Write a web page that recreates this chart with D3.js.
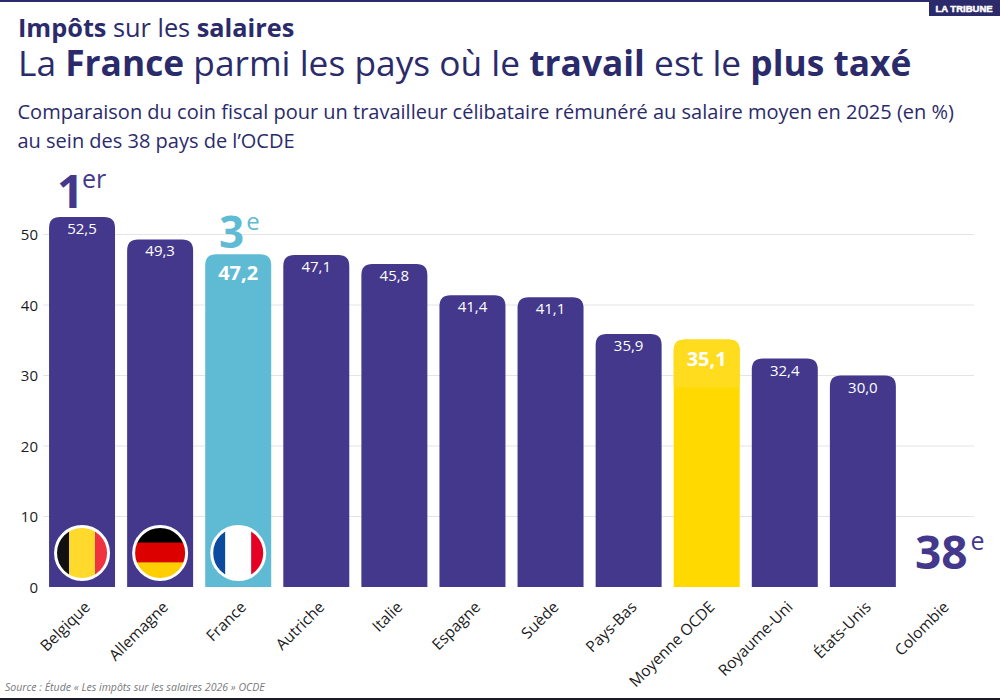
<!DOCTYPE html>
<html lang="fr">
<head>
<meta charset="utf-8">
<script src="https://cdn.jsdelivr.net/npm/d3@7/dist/d3.min.js"></script>
<style>
html,body{margin:0;padding:0;background:#fff}
svg{display:block}
text{font-family:"Open Sans",sans-serif}
</style>
</head>
<body>
<svg id="chart" width="1000" height="700"></svg>
<script>
// Tax wedge data, OECD 2025
const countries = ["Belgique","Allemagne","France","Autriche","Italie","Espagne","Suède","Pays-Bas","Moyenne OCDE","Royaume-Uni","États-Unis","Colombie"];
const wedge = [52.5,49.3,47.2,47.1,45.8,41.4,41.1,35.9,35.1,32.4,30.0,null];
const yTicks = [0,10,20,30,40,50];
const barFills = {France:"#5FBBD3","Moyenne OCDE":"#FFD900"};
const emphasised = ["France","Moyenne OCDE"];
const rankNums = ["1","3","38"];
const rankSups = ["er","e","e"];
const rankCountries = ["Belgique","France","Colombie"];
const flagCountries = ["Belgique","Allemagne","France"];
const flagBands = [["#111111","#FFD92B","#EF3340"],["#000000","#DD0000","#FFCE00"],["#0B4A9E","#FFFFFF","#E60023"]];
const titleLine1 = [["Impôts",700],[" sur les ",400],["salaires",700]];
const titleLine2 = [["La ",400],["France",700],[" parmi les pays où le ",400],["travail",700],[" est le ",400],["plus taxé",700]];
const subtitle = ["Comparaison du coin fiscal pour un travailleur célibataire rémunéré au salaire moyen en 2025 (en %)","au sein des 38 pays de l’OCDE"];
const sourceText = "Source : Étude « Les impôts sur les salaires 2026 » OCDE";

const NAVY = "#2B2B6B", PURPLE = "#43388C", SKY = "#5FBBD3";
const svg = d3.select("#chart");
const gapShare = 1 - 66 / 78.1;
const x = d3.scaleBand().domain(countries).range([43,980]).paddingInner(gapShare).paddingOuter(gapShare / 2);
const y = d3.scaleLinear().domain([0,50]).range([587,234.5]);

// Page frame and masthead tab
svg.append("rect").attr("width",1000).attr("height",2).attr("fill",NAVY);
svg.append("rect").attr("y",698).attr("width",1000).attr("height",2).attr("fill","#1a1a2a");
svg.append("rect").attr("x",929).attr("width",71).attr("height",16).attr("fill",NAVY);
svg.append("text").attr("x",964).attr("y",12).attr("text-anchor","middle").attr("fill","#fff")
  .attr("font-size",9.5).attr("font-weight",800).style("font-family","'Liberation Sans',sans-serif")
  .attr("stroke","#fff").attr("stroke-width",.5).text("LA TRIBUNE");

// Headings
const runs = (sel,parts) => sel.selectAll("tspan").data(parts).join("tspan")
  .attr("font-weight",d=>d[1]).text(d=>d[0]);
svg.append("text").attr("x",18).attr("y",37).attr("font-size",25.3).attr("fill",NAVY)
  .attr("xml:space","preserve").call(runs,titleLine1);
svg.append("text").attr("x",18).attr("y",76).attr("font-size",35.3).attr("fill",NAVY)
  .attr("xml:space","preserve").call(runs,titleLine2);
svg.selectAll(".sub").data(subtitle).join("text").attr("class","sub").attr("x",17.5)
  .attr("y",(d,i)=>119+i*29).attr("font-size",20).attr("fill",NAVY).text(d=>d);

// Grid and y axis
svg.append("g").selectAll("line").data(yTicks.slice(1)).join("line")
  .attr("x1",43).attr("x2",974).attr("y1",d=>y(d)).attr("y2",d=>y(d))
  .attr("stroke","#E4E4E6").attr("stroke-width",1);
const yAxis = svg.append("g").attr("transform","translate(38,0.5)")
  .call(d3.axisLeft(y).tickValues(yTicks).tickSize(0).tickPadding(0));
yAxis.select(".domain").remove();
yAxis.selectAll("text").attr("font-size",15).attr("fill","#1b1b1b").style("font-family","'Open Sans',sans-serif");

// Bars with rounded tops, square at the baseline
const rows = countries.map((c,i)=>({country:c,value:wedge[i]})).filter(d=>d.value!==null);
const topRounded = (x0,w,t,b,r) =>
  `M${x0},${b}V${t+r}Q${x0},${t} ${x0+r},${t}H${x0+w-r}Q${x0+w},${t} ${x0+w},${t+r}V${b}Z`;
svg.append("g").selectAll("path").data(rows).join("path")
  .attr("d",d=>topRounded(x(d.country),x.bandwidth(),y(d.value),y(0),11))
  .attr("fill",d=>barFills[d.country] || PURPLE);

// Slightly lighter cap behind the OECD average figure
svg.append("g").selectAll("path").data(rows.filter(d=>d.country==="Moyenne OCDE")).join("path")
  .attr("d",d=>topRounded(x(d.country),x.bandwidth(),y(d.value),y(d.value)+48,11))
  .attr("fill","#FFDC1E");

// Value labels
const isEm = d => emphasised.includes(d.country);
svg.append("g").selectAll("text").data(rows).join("text")
  .attr("x",d=>x(d.country)+x.bandwidth()/2)
  .attr("y",d=>y(d.value)+(isEm(d)?26:17))
  .attr("text-anchor","middle").attr("fill","#fff")
  .attr("font-size",d=>isEm(d)?20:15)
  .attr("font-weight",d=>isEm(d)?700:400)
  .text(d=>d3.format(".1f")(d.value).replace(".",","));

// Round flags at the foot of the first three bars
const defs = svg.append("defs");
const flagR = 26, flagCy = 553;
flagCountries.forEach((name,i)=>{
  const cx = x(name)+x.bandwidth()/2;
  const horizontal = name==="Allemagne";
  const stops = horizontal ? [0,.3,.68,1] : [0,.25,.75,1];
  const s = d3.scaleLinear().domain([0,1]).range([-flagR,flagR]);
  defs.append("clipPath").attr("id","flag"+i).append("circle").attr("cx",cx).attr("cy",flagCy).attr("r",flagR);
  const g = svg.append("g").attr("clip-path",`url(#flag${i})`);
  flagBands[i].forEach((c,k)=>{
    const a = s(stops[k]), len = s(stops[k+1])-a+.3;
    if(horizontal) g.append("rect").attr("x",cx-flagR).attr("y",flagCy+a).attr("width",flagR*2).attr("height",len).attr("fill",c);
    else g.append("rect").attr("x",cx+a).attr("y",flagCy-flagR).attr("width",len).attr("height",flagR*2).attr("fill",c);
  });
  svg.append("circle").attr("cx",cx).attr("cy",flagCy).attr("r",flagR+.5).attr("fill","none").attr("stroke","#fff").attr("stroke-width",3);
});

// Rank callouts: large ordinal with raised suffix
const rankLayout = {
  Belgique:{x:57,y:208,size:47,supSize:25,rise:20,dx:-2,fill:PURPLE},
  France:{x:219,y:248,size:44,supSize:24,rise:18,dx:2,fill:SKY},
  Colombie:{x:915,y:569,size:46,supSize:25,rise:19,dx:3,fill:PURPLE}
};
rankCountries.forEach((c,i)=>{
  const p = rankLayout[c];
  const t = svg.append("text").attr("x",p.x).attr("y",p.y).attr("fill",p.fill);
  t.append("tspan").attr("font-size",p.size).attr("font-weight",700).text(rankNums[i]);
  t.append("tspan").attr("font-size",p.supSize).attr("font-weight",400).attr("dx",p.dx).attr("dy",-p.rise).text(rankSups[i]);
});

// Category axis with slanted labels
const xAxis = svg.append("g").attr("transform","translate(0,587)").call(d3.axisBottom(x).tickSize(0).tickPadding(0));
xAxis.select(".domain").remove();
xAxis.selectAll("text").attr("font-size",15.5).attr("fill","#1b1b1b")
  .style("font-family","'Open Sans',sans-serif")
  .attr("text-anchor","end").attr("dy",0).attr("y",0)
  .attr("transform","translate(9,21) rotate(-45)");

// Source line
svg.append("text").attr("x",5).attr("y",691).attr("font-size",10.55).attr("font-style","italic").attr("fill","#77777c").text(sourceText);
</script>
</body>
</html>
